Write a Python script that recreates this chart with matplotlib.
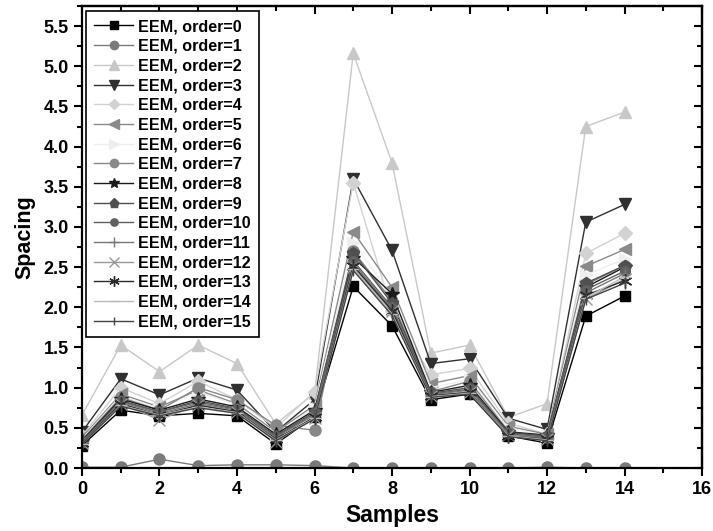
import matplotlib
matplotlib.use("Agg")
import matplotlib.pyplot as plt
from matplotlib.ticker import MultipleLocator

plt.rcParams['font.family'] = ['Liberation Sans', 'DejaVu Sans']
plt.rcParams['font.weight'] = 'bold'

samples = list(range(15))
labels = [f"EEM, order={i}" for i in range(16)]

order0 = [0.28, 0.72, 0.65, 0.68, 0.65, 0.30, 0.64, 2.26, 1.77, 0.85, 0.92, 0.40, 0.31, 1.89, 2.14]
order1 = [0.01, 0.01, 0.11, 0.03, 0.04, 0.04, 0.03, 0.00, 0.00, 0.00, 0.00, 0.00, 0.01, 0.00, 0.00]
order2 = [0.66, 1.53, 1.20, 1.53, 1.30, 0.55, 0.93, 5.16, 3.80, 1.43, 1.53, 0.63, 0.80, 4.25, 4.43]
order3 = [0.45, 1.11, 0.91, 1.12, 0.97, 0.45, 0.85, 3.60, 2.71, 1.30, 1.36, 0.62, 0.48, 3.06, 3.28]
order4 = [0.40, 1.00, 0.80, 1.08, 0.85, 0.50, 0.95, 3.55, 1.95, 1.16, 1.24, 0.56, 0.42, 2.67, 2.92]
order5 = [0.38, 0.92, 0.76, 0.97, 0.80, 0.45, 0.78, 2.94, 2.25, 1.05, 1.15, 0.52, 0.42, 2.51, 2.72]
order6 = [0.36, 0.90, 0.74, 0.95, 0.78, 0.42, 0.75, 2.80, 2.15, 1.00, 1.10, 0.50, 0.40, 2.40, 2.60]
order7 = [0.35, 0.88, 0.72, 1.00, 0.85, 0.53, 0.47, 2.70, 2.08, 0.95, 1.08, 0.46, 0.38, 2.28, 2.52]
order8 = [0.34, 0.86, 0.72, 0.86, 0.76, 0.42, 0.72, 2.62, 2.17, 0.94, 1.03, 0.45, 0.41, 2.25, 2.50]
order9 = [0.33, 0.84, 0.70, 0.84, 0.74, 0.40, 0.70, 2.68, 2.05, 0.93, 1.00, 0.44, 0.40, 2.30, 2.52]
order10 = [0.32, 0.83, 0.70, 0.82, 0.73, 0.39, 0.68, 2.58, 2.00, 0.92, 0.98, 0.43, 0.38, 2.22, 2.45]
order11 = [0.32, 0.82, 0.68, 0.80, 0.72, 0.38, 0.66, 2.55, 1.98, 0.91, 0.97, 0.42, 0.37, 2.18, 2.42]
order12 = [0.31, 0.80, 0.60, 0.79, 0.70, 0.33, 0.62, 2.50, 1.95, 0.90, 0.95, 0.41, 0.36, 2.10, 2.35]
order13 = [0.31, 0.80, 0.66, 0.78, 0.70, 0.36, 0.63, 2.52, 1.96, 0.90, 0.94, 0.40, 0.36, 2.15, 2.33]
order14 = [0.30, 0.78, 0.66, 0.76, 0.69, 0.35, 0.62, 2.48, 1.92, 0.89, 0.93, 0.40, 0.35, 2.12, 2.38]
order15 = [0.30, 0.77, 0.65, 0.75, 0.68, 0.34, 0.61, 2.46, 1.90, 0.88, 0.92, 0.39, 0.34, 2.10, 2.30]

series = [order0, order1, order2, order3, order4, order5, order6, order7,
          order8, order9, order10, order11, order12, order13, order14, order15]

styles = [
    dict(color='#000000', marker='s', ms=7),
    dict(color='#7a7a7a', marker='o', ms=8),
    dict(color='#c8c8c8', marker='^', ms=9),
    dict(color='#303030', marker='v', ms=9),
    dict(color='#d2d2d2', marker='D', ms=7),
    dict(color='#8a8a8a', marker='<', ms=9),
    dict(color='#eeeeee', marker='>', ms=9),
    dict(color='#888888', marker='o', ms=8),
    dict(color='#1a1a1a', marker='*', ms=10),
    dict(color='#505050', marker='p', ms=9),
    dict(color='#606060', marker='o', ms=7),
    dict(color='#777777', marker='+', ms=9),
    dict(color='#999999', marker='x', ms=9),
    dict(color='#2a2a2a', marker=(6, 2, 0), ms=10),
    dict(color='#bbbbbb', marker='_', ms=9),
    dict(color='#444444', marker='|', ms=8),
]

fig = plt.figure(figsize=(7.13, 5.31), dpi=100)
ax = fig.add_axes([0.115, 0.1186, 0.8696, 0.8701])

for vals, lab, st in zip(series, labels, styles):
    ax.plot(samples, vals, color=st['color'], marker=st['marker'], markersize=st['ms'],
            linewidth=1.0, markeredgewidth=1.0, label=lab)

ax.set_xlim(0, 16)
ax.set_ylim(0, 5.75)
ax.xaxis.set_major_locator(MultipleLocator(2))
ax.xaxis.set_minor_locator(MultipleLocator(1))
ax.yaxis.set_major_locator(MultipleLocator(0.5))
ax.yaxis.set_minor_locator(MultipleLocator(0.25))
ax.yaxis.set_major_formatter(plt.FormatStrFormatter('%.1f'))

for s in ax.spines.values():
    s.set_linewidth(1.6)

ax.tick_params(which='both', width=1.5, labelsize=13)
ax.tick_params(which='major', length=6)
ax.tick_params(which='minor', length=3.5)
ax.tick_params(axis='x', which='both', direction='out', top=False)
ax.tick_params(axis='y', which='both', direction='out', right=False)
ax2 = ax.secondary_xaxis('top')
ax2.xaxis.set_major_locator(MultipleLocator(2))
ax2.xaxis.set_minor_locator(MultipleLocator(1))
ax2.tick_params(which='both', direction='in', width=1.5, labeltop=False)
ax2.tick_params(which='major', length=6)
ax2.tick_params(which='minor', length=3.5)
ax3 = ax.secondary_yaxis('right')
ax3.yaxis.set_major_locator(MultipleLocator(0.5))
ax3.yaxis.set_minor_locator(MultipleLocator(0.25))
ax3.tick_params(which='both', direction='in', width=1.5, labelright=False)
ax3.tick_params(which='major', length=6)
ax3.tick_params(which='minor', length=3.5)
for a in (ax2, ax3):
    for s in a.spines.values():
        s.set_linewidth(1.6)

for lbl in ax.get_xticklabels() + ax.get_yticklabels():
    lbl.set_fontweight('bold')

ax.set_xlabel('Samples', fontsize=16.5, fontweight='bold', labelpad=4)
ax.set_ylabel('Spacing', fontsize=15.5, fontweight='bold', labelpad=6)

leg = ax.legend(loc='upper left', bbox_to_anchor=(0.007, 0.989),
                frameon=True, fancybox=False, edgecolor='black', framealpha=1,
                handlelength=2.4, handletextpad=0.3, labelspacing=0.29,
                borderpad=0.5, borderaxespad=0.0, markerscale=0.75,
                prop={'weight': 'bold', 'size': 11.6})
leg.get_frame().set_linewidth(1.2)

fig.savefig('out.png', dpi=100)
